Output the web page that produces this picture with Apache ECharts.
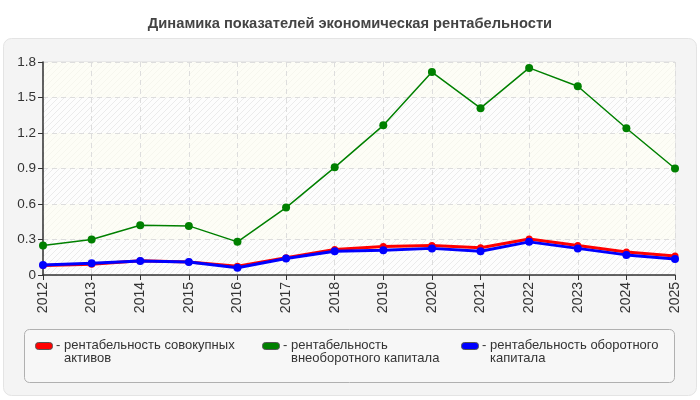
<!DOCTYPE html>
<html>
<head>
<meta charset="utf-8">
<script src="https://cdn.jsdelivr.net/npm/echarts@6/dist/echarts.min.js"></script>
<style>
    html, body { margin: 0; padding: 0; background: #fff; }
    #chart { width: 700px; height: 400px; }
</style>
</head>
<body>
<div id="chart"></div>
<script>
var years = ["2012", "2013", "2014", "2015", "2016", "2017", "2018", "2019", "2020", "2021", "2022", "2023", "2024", "2025"];
var totalAssets = [0.08, 0.09, 0.12, 0.11, 0.075, 0.145, 0.215, 0.24, 0.25, 0.23, 0.305, 0.25, 0.195, 0.16];
var fixedCapital = [0.25, 0.30, 0.42, 0.415, 0.28, 0.57, 0.91, 1.265, 1.715, 1.41, 1.75, 1.595, 1.24, 0.90];
var workingCapital = [0.085, 0.10, 0.118, 0.11, 0.062, 0.14, 0.20, 0.21, 0.225, 0.20, 0.28, 0.225, 0.17, 0.135];
var seriesNames = ["рентабельность совокупных активов", "рентабельность внеоборотного капитала", "рентабельность оборотного капитала"];
var legendLines = [
    ["рентабельность совокупных", "активов"],
    ["рентабельность", "внеоборотного капитала"],
    ["рентабельность оборотного", "капитала"]
];
var colors = ["#ff0000", "#008000", "#0000ff"];

function hatch(bg, line) {
    var c = document.createElement("canvas");
    c.width = 6; c.height = 6;
    var g = c.getContext("2d");
    g.fillStyle = bg;
    g.fillRect(0, 0, 6, 6);
    g.strokeStyle = line;
    g.lineWidth = 1;
    g.beginPath();
    g.moveTo(-1, 7); g.lineTo(7, -1);
    g.moveTo(-1, 1); g.lineTo(1, -1);
    g.moveTo(5, 7); g.lineTo(7, 5);
    g.stroke();
    return { image: c, repeat: "repeat" };
}

var font = "'Liberation Sans', Arial, sans-serif";
var legendX = [35, 262, 461];

var graphics = [{
    type: "rect", z: -10, silent: true,
    shape: { x: 3.5, y: 38.5, width: 693, height: 357, r: 8 },
    style: { fill: "#f4f4f4", stroke: "#e4e4e4", lineWidth: 1 }
}, {
    type: "rect", z: 10, silent: true,
    shape: { x: 24.5, y: 329.5, width: 650, height: 53, r: 5 },
    style: { fill: "#f7f7f7", stroke: "#b0b0b0", lineWidth: 1 }
}];
legendX.forEach(function (x, i) {
    graphics.push({
        type: "rect", z: 11, silent: true,
        shape: { x: x + 0.5, y: 342.5, width: 17, height: 7, r: 3 },
        style: { fill: colors[i], stroke: "#555", lineWidth: 1 }
    });
    graphics.push({
        type: "text", z: 11, silent: true, x: x + 21, y: 339,
        style: { text: "-", font: "13px " + font, fill: "#333" }
    });
    graphics.push({
        type: "text", z: 11, silent: true, x: x + 29, y: 339.5,
        style: { text: legendLines[i].join("\n"), font: "13px " + font, fill: "#333", lineHeight: 12.5 }
    });
});

var chart = echarts.init(document.getElementById("chart"));
chart.setOption({
    animation: false,
    backgroundColor: "#ffffff",
    title: {
        text: "Динамика показателей экономическая рентабельности",
        left: "center", top: 11,
        textStyle: { fontFamily: font, fontSize: 14.7, fontWeight: "bold", color: "#444" }
    },
    grid: { left: 43, right: 25, top: 62, bottom: 125, show: true, borderColor: "#dddddd", borderWidth: 1 },
    graphic: graphics,
    xAxis: {
        type: "category",
        data: years,
        boundaryGap: false,
        axisLine: { lineStyle: { color: "#333", width: 1.5 } },
        axisTick: { alignWithLabel: true, length: 5, lineStyle: { color: "#333" } },
        axisLabel: { rotate: 90, fontFamily: font, fontSize: 14, color: "#333", margin: 7 },
        splitLine: { show: true, lineStyle: { color: "#dddddd", type: [5, 4] } }
    },
    yAxis: {
        type: "value",
        min: 0, max: 1.8, interval: 0.3,
        axisLine: { show: true, lineStyle: { color: "#333", width: 1.5 } },
        axisTick: { show: true, length: 5, lineStyle: { color: "#333" } },
        axisLabel: { fontFamily: font, fontSize: 13.5, color: "#333", margin: 7 },
        splitLine: { lineStyle: { color: "#dddddd", type: [5, 4] } },
        splitArea: {
            show: true,
            areaStyle: { color: [hatch("#fdfdfd", "#ebebeb"), hatch("#fdfdf6", "#f6f6ee")] }
        }
    },
    series: [{
        name: seriesNames[0], type: "line", data: totalAssets,
        symbol: "circle", symbolSize: 7,
        lineStyle: { color: colors[0], width: 3 },
        itemStyle: { color: colors[0] }
    }, {
        name: seriesNames[1], type: "line", data: fixedCapital,
        symbol: "circle", symbolSize: 8,
        lineStyle: { color: colors[1], width: 1.5 },
        itemStyle: { color: colors[1] }
    }, {
        name: seriesNames[2], type: "line", data: workingCapital,
        symbol: "circle", symbolSize: 8,
        lineStyle: { color: colors[2], width: 3 },
        itemStyle: { color: colors[2] }
    }]
});
</script>
</body>
</html>
